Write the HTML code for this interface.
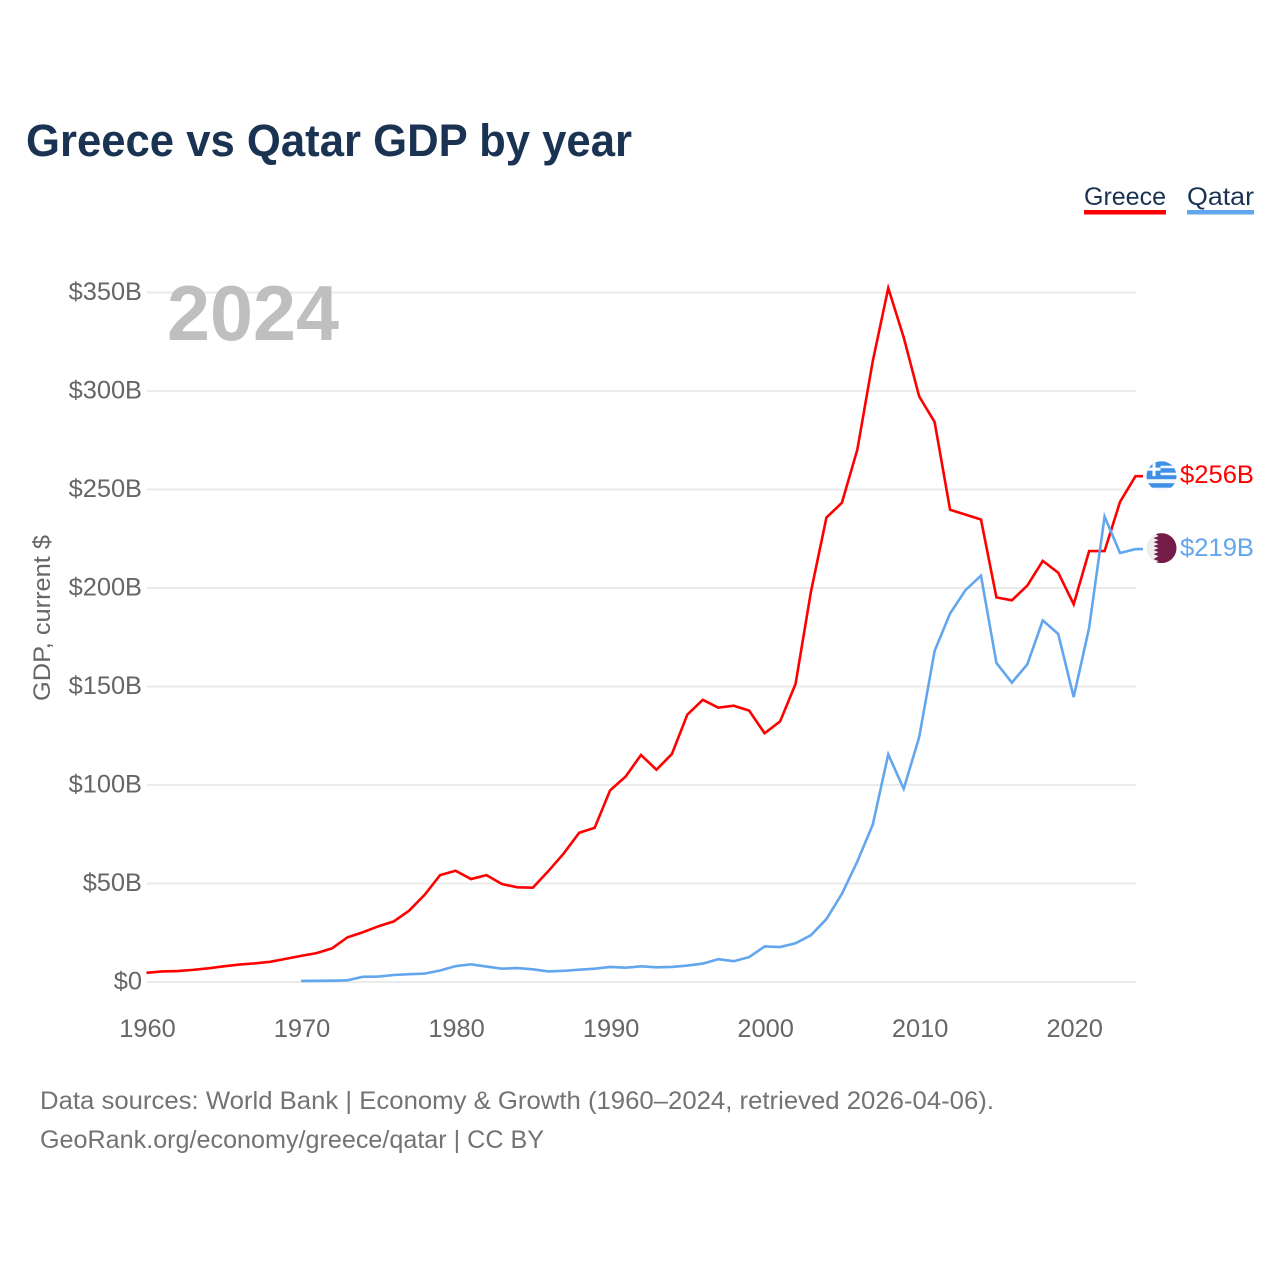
<!DOCTYPE html>
<html lang="en">
<head>
<meta charset="utf-8">
<title>Greece vs Qatar GDP by year</title>
<style>
html,body{margin:0;padding:0;background:#fff;width:1280px;height:1280px;overflow:hidden}
svg{display:block;font-family:"Liberation Sans",sans-serif}
</style>
</head>
<body>
<svg id="chart" xmlns="http://www.w3.org/2000/svg" width="1280" height="1280" viewBox="0 0 1280 1280">
  <defs>
    <clipPath id="flag-clip"><circle cx="0" cy="0" r="15"/></clipPath>
  </defs>
  <text x="26" y="156" font-size="45" font-weight="700" fill="#1a3353" textLength="606" lengthAdjust="spacingAndGlyphs">Greece vs Qatar GDP by year</text>

  <g>
    <g>
      <text x="1084" y="205" font-size="25" fill="#1a3353" textLength="82" lengthAdjust="spacingAndGlyphs">Greece</text>
      <rect x="1084" y="210" width="82" height="4.5" fill="#ff0000"/>
    </g>
    <g>
      <text x="1187" y="205" font-size="25" fill="#1a3353" textLength="67" lengthAdjust="spacingAndGlyphs">Qatar</text>
      <rect x="1187" y="210" width="67" height="4.5" fill="#62a6ee"/>
    </g>
  </g>

  <g id="grid"></g>
  <g id="y-axis"></g>
  <g id="x-axis"></g>

  <text x="167" y="340" font-size="78" font-weight="700" fill="#bfbfbf" textLength="172" lengthAdjust="spacingAndGlyphs">2024</text>

  <text transform="translate(50,701) rotate(-90)" font-size="24" fill="#666666" textLength="166" lengthAdjust="spacingAndGlyphs">GDP, current $</text>

  <g id="series"></g>

  <g id="flag-greece">
    <g clip-path="url(#flag-clip)">
      <rect x="-15" y="-15" width="30" height="30" fill="#f4f7fb"/>
      <rect x="-15" y="-15" width="30" height="4.5" fill="#3f8fe8"/>
      <rect x="-15" y="-8" width="30" height="4.5" fill="#3f8fe8"/>
      <rect x="-15" y="-1" width="30" height="4" fill="#3f8fe8"/>
      <rect x="-15" y="7" width="30" height="4.5" fill="#3f8fe8"/>
      <rect x="-15" y="-15" width="14" height="15" fill="#3f8fe8"/>
      <rect x="-15" y="-8.5" width="14" height="3" fill="#ffffff"/>
      <rect x="-9" y="-15" width="3" height="15" fill="#ffffff"/>
    </g>
  </g>
  <g id="flag-qatar">
    <g clip-path="url(#flag-clip)">
      <rect x="-15" y="-15" width="30" height="30" fill="#eeeeee"/>
      <polygon fill="#741b47" points="-7,-15 15,-15 15,15 -7,15 -3,13 -8,11 -3,8 -8,6 -3,4 -8,2 -3,0 -8,-2 -3,-4 -8,-6 -3,-8 -8,-10 -3,-12"/>
    </g>
  </g>
  <text id="value-greece" x="1180" font-size="25" fill="#ff0000" textLength="74" lengthAdjust="spacingAndGlyphs"></text>
  <text id="value-qatar" x="1180" font-size="25" fill="#62a6ee" textLength="74" lengthAdjust="spacingAndGlyphs"></text>

  <text x="40" y="1109" font-size="25" fill="#737373" textLength="954" lengthAdjust="spacingAndGlyphs">Data sources: World Bank | Economy &amp; Growth (1960–2024, retrieved 2026-04-06).</text>
  <text x="40" y="1148" font-size="25" fill="#737373" textLength="504" lengthAdjust="spacingAndGlyphs">GeoRank.org/economy/greece/qatar | CC BY</text>
</svg>

<script>
const yTickValues = [0, 50, 100, 150, 200, 250, 300, 350];
const yTickLabels = ["$0", "$50B", "$100B", "$150B", "$200B", "$250B", "$300B", "$350B"];
const xTickYears = [1960, 1970, 1980, 1990, 2000, 2010, 2020];
const xTickLabels = ["1960", "1970", "1980", "1990", "2000", "2010", "2020"];

const greeceStartYear = 1960;
const greeceValues = [4.4, 5.1, 5.3, 5.9, 6.7, 7.7, 8.6, 9.2, 10.0, 11.5,
  13.0, 14.4, 16.8, 22.4, 25.0, 28.0, 30.5, 36.0, 44.0, 54.0,
  56.2, 52.0, 54.0, 49.5, 47.8, 47.6, 56.0, 65.0, 75.5, 78.0,
  97.0, 104.0, 115.0, 107.5, 115.5, 135.5, 143.0, 139.0, 140.0, 137.5,
  126.0, 132.0, 151.0, 198.0, 235.5, 243.0, 270.0, 315.0, 352.0, 327.0,
  297.0, 284.0, 239.5, 237.0, 234.5, 195.0, 193.5, 201.0, 213.5, 207.5,
  191.5, 218.5, 218.5, 243.5, 256.5];

const qatarStartYear = 1970;
const qatarValues = [0.3, 0.35, 0.4, 0.6, 2.4, 2.5, 3.3, 3.7, 4.0, 5.6,
  7.8, 8.7, 7.6, 6.5, 6.8, 6.2, 5.1, 5.4, 6.0, 6.5,
  7.4, 7.0, 7.7, 7.2, 7.4, 8.1, 9.1, 11.3, 10.3, 12.4,
  17.8, 17.5, 19.4, 23.5, 31.7, 44.5, 60.9, 79.7, 115.3, 97.8,
  124.0, 167.8, 186.8, 198.7, 206.0, 161.7, 151.7, 161.0, 183.3, 176.4,
  144.4, 179.6, 236.0, 217.5, 219.5];

const NS = "http://www.w3.org/2000/svg";
const PLOT_LEFT = 146.5, PLOT_RIGHT = 1135.5, PLOT_ZERO = 981.5, PLOT_350 = 292;
const STUB_END = 1143;

function xScale(year) {
  return PLOT_LEFT + (year - 1960) * (PLOT_RIGHT - PLOT_LEFT) / (2024 - 1960);
}
function yScale(value) {
  return PLOT_ZERO - value * (PLOT_ZERO - PLOT_350) / 350;
}
function make(tag, attrs, parent, text) {
  const el = document.createElementNS(NS, tag);
  for (const k in attrs) el.setAttribute(k, attrs[k]);
  if (text !== undefined) el.textContent = text;
  parent.appendChild(el);
  return el;
}

const gridGroup = document.getElementById("grid");
const yAxisGroup = document.getElementById("y-axis");
const xAxisGroup = document.getElementById("x-axis");
const seriesGroup = document.getElementById("series");

yTickValues.forEach(function (v, i) {
  const y = yScale(v);
  const line = make("line", {x1: 147, x2: 1136, y1: y + 0.5, y2: y + 0.5, stroke: "#ebebeb", "stroke-width": 2}, gridGroup);
  
  
  const label = make("text", {x: 142, y: y + 8, "font-size": 25.4, fill: "#666666", "text-anchor": "end"}, yAxisGroup, yTickLabels[i]);
  
  
});

xTickYears.forEach(function (yr, i) {
  const label = make("text", {x: xScale(yr) + 1, y: 1037, "font-size": 25.4, fill: "#666666", "text-anchor": "middle"}, xAxisGroup, xTickLabels[i]);
  
  
});

function pointsFor(values, startYear) {
  return values.map(function (v, i) {
    return xScale(startYear + i).toFixed(2) + "," + yScale(v).toFixed(2);
  }).join(" ") + " " + STUB_END + "," + yScale(values[values.length - 1]).toFixed(2);
}

const greeceLine = make("polyline", {points: pointsFor(greeceValues, greeceStartYear), fill: "none", stroke: "#ff0000", "stroke-width": 2.6, "stroke-linejoin": "miter"}, seriesGroup);



const qatarLine = make("polyline", {points: pointsFor(qatarValues, qatarStartYear), fill: "none", stroke: "#62a6ee", "stroke-width": 2.6, "stroke-linejoin": "miter"}, seriesGroup);



const greeceLast = greeceValues[greeceValues.length - 1];
const qatarLast = qatarValues[qatarValues.length - 1];
const greeceEndY = yScale(greeceLast);
const qatarEndY = yScale(qatarLast);

document.getElementById("flag-greece").setAttribute("transform", "translate(1161.5," + greeceEndY + ")");
document.getElementById("flag-qatar").setAttribute("transform", "translate(1161.5," + (qatarEndY - 1) + ")");

const greeceValueLabel = document.getElementById("value-greece");
greeceValueLabel.setAttribute("y", greeceEndY + 7);
greeceValueLabel.textContent = "$" + Math.floor(greeceLast) + "B";

const qatarValueLabel = document.getElementById("value-qatar");
qatarValueLabel.setAttribute("y", qatarEndY + 7);
qatarValueLabel.textContent = "$" + Math.floor(qatarLast) + "B";
</script>
</body>
</html>
